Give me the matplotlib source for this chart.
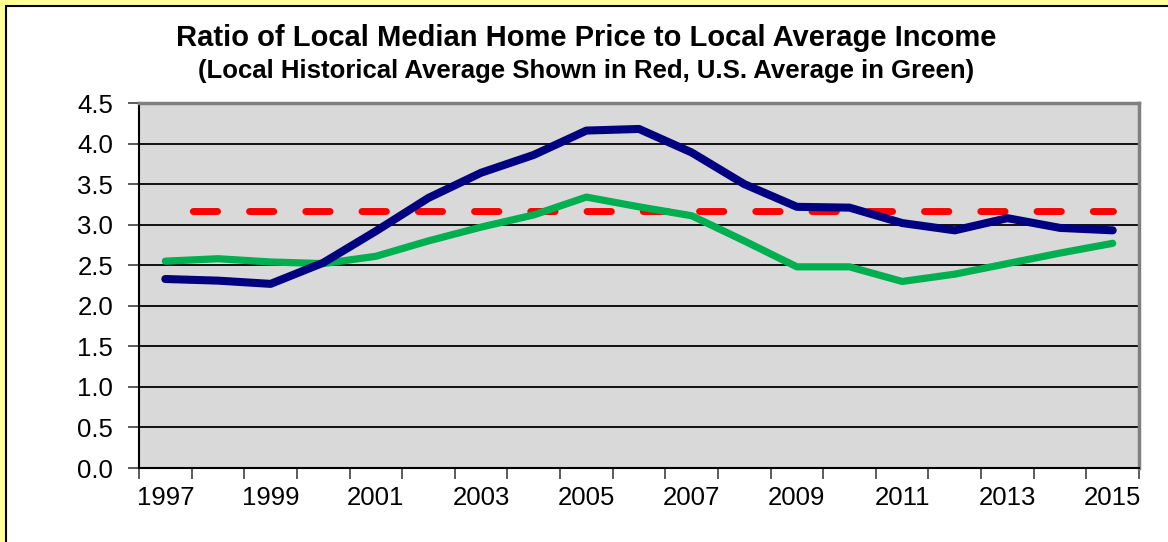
import numpy as np
import matplotlib.pyplot as plt
from matplotlib.patches import Rectangle

years = list(range(1997, 2016))
local_ratio = [2.33, 2.31, 2.27, 2.53, 2.92, 3.33, 3.64, 3.86, 4.16, 4.18,
               3.89, 3.50, 3.22, 3.21, 3.02, 2.93, 3.08, 2.96, 2.93]
us_ratio = [2.55, 2.58, 2.54, 2.52, 2.61, 2.80, 2.97, 3.12, 3.34, 3.22,
            3.11, 2.80, 2.48, 2.48, 2.30, 2.39, 2.52, 2.65, 2.77]
local_hist_avg = 3.17

title = 'Ratio of Local Median Home Price to Local Average Income'
subtitle = '(Local Historical Average Shown in Red, U.S. Average in Green)'

plt.rcParams['font.family'] = ['Liberation Sans', 'DejaVu Sans']

W, H = 1168, 542
fig = plt.figure(figsize=(W / 100, H / 100), dpi=100)
fig.patch.set_facecolor('#FFFF99')

# white inner box with black border
fig.patches.append(Rectangle((6 / W, -0.1), 1.2, 1.1 - 6 / H, transform=fig.transFigure,
                             facecolor='white', edgecolor='black', linewidth=1.5, zorder=-5))

ax = fig.add_axes([139 / W, 1 - 468 / H, 1000 / W, 365 / H])
ax.set_facecolor('#D9D9D9')

x = np.arange(len(years))
ax.plot(x, [local_hist_avg] * len(x), color='#FF0000', lw=5, dash_capstyle='round',
        linestyle=(4.1, (3.5, 4.6)), zorder=3)
ax.plot(x, us_ratio, color='#00B050', lw=5.2, solid_capstyle='round',
        solid_joinstyle='round', zorder=4)
ax.plot(x, local_ratio, color='#000080', lw=5.8, solid_capstyle='round',
        solid_joinstyle='round', zorder=5)

ax.set_xlim(-0.5, len(years) - 0.5)
ax.set_ylim(0, 4.5)
ax.set_yticks(np.arange(0, 4.51, 0.5))
ax.set_yticklabels([f'{v:.1f}' for v in np.arange(0, 4.51, 0.5)])
ax.yaxis.grid(True, color='black', lw=1.3)
ax.set_axisbelow(True)

ax.set_xticks(x[::2])
ax.set_xticklabels([str(y) for y in years[::2]])
ax.set_xticks(np.arange(-0.5, len(years)), minor=True)
ax.tick_params(axis='x', which='major', length=0, pad=13, labelsize=18.5)
ax.tick_params(axis='x', which='minor', length=8, width=1.2, color='#404040')
ax.tick_params(axis='y', length=8, width=1.2, color='#404040', pad=10.5, labelsize=18.5)

for side in ['top', 'right']:
    ax.spines[side].set_color('#808080')
    ax.spines[side].set_linewidth(2.5)
for side in ['left', 'bottom']:
    ax.spines[side].set_color('black')
    ax.spines[side].set_linewidth(1.5)

fig.text(0.502, 1 - 38 / H, title, ha='center', va='center', fontsize=21, fontweight='bold')
fig.text(0.502, 1 - 71 / H, subtitle, ha='center', va='center', fontsize=18.5, fontweight='bold')

fig.savefig('out.png', dpi=100, facecolor=fig.get_facecolor())
